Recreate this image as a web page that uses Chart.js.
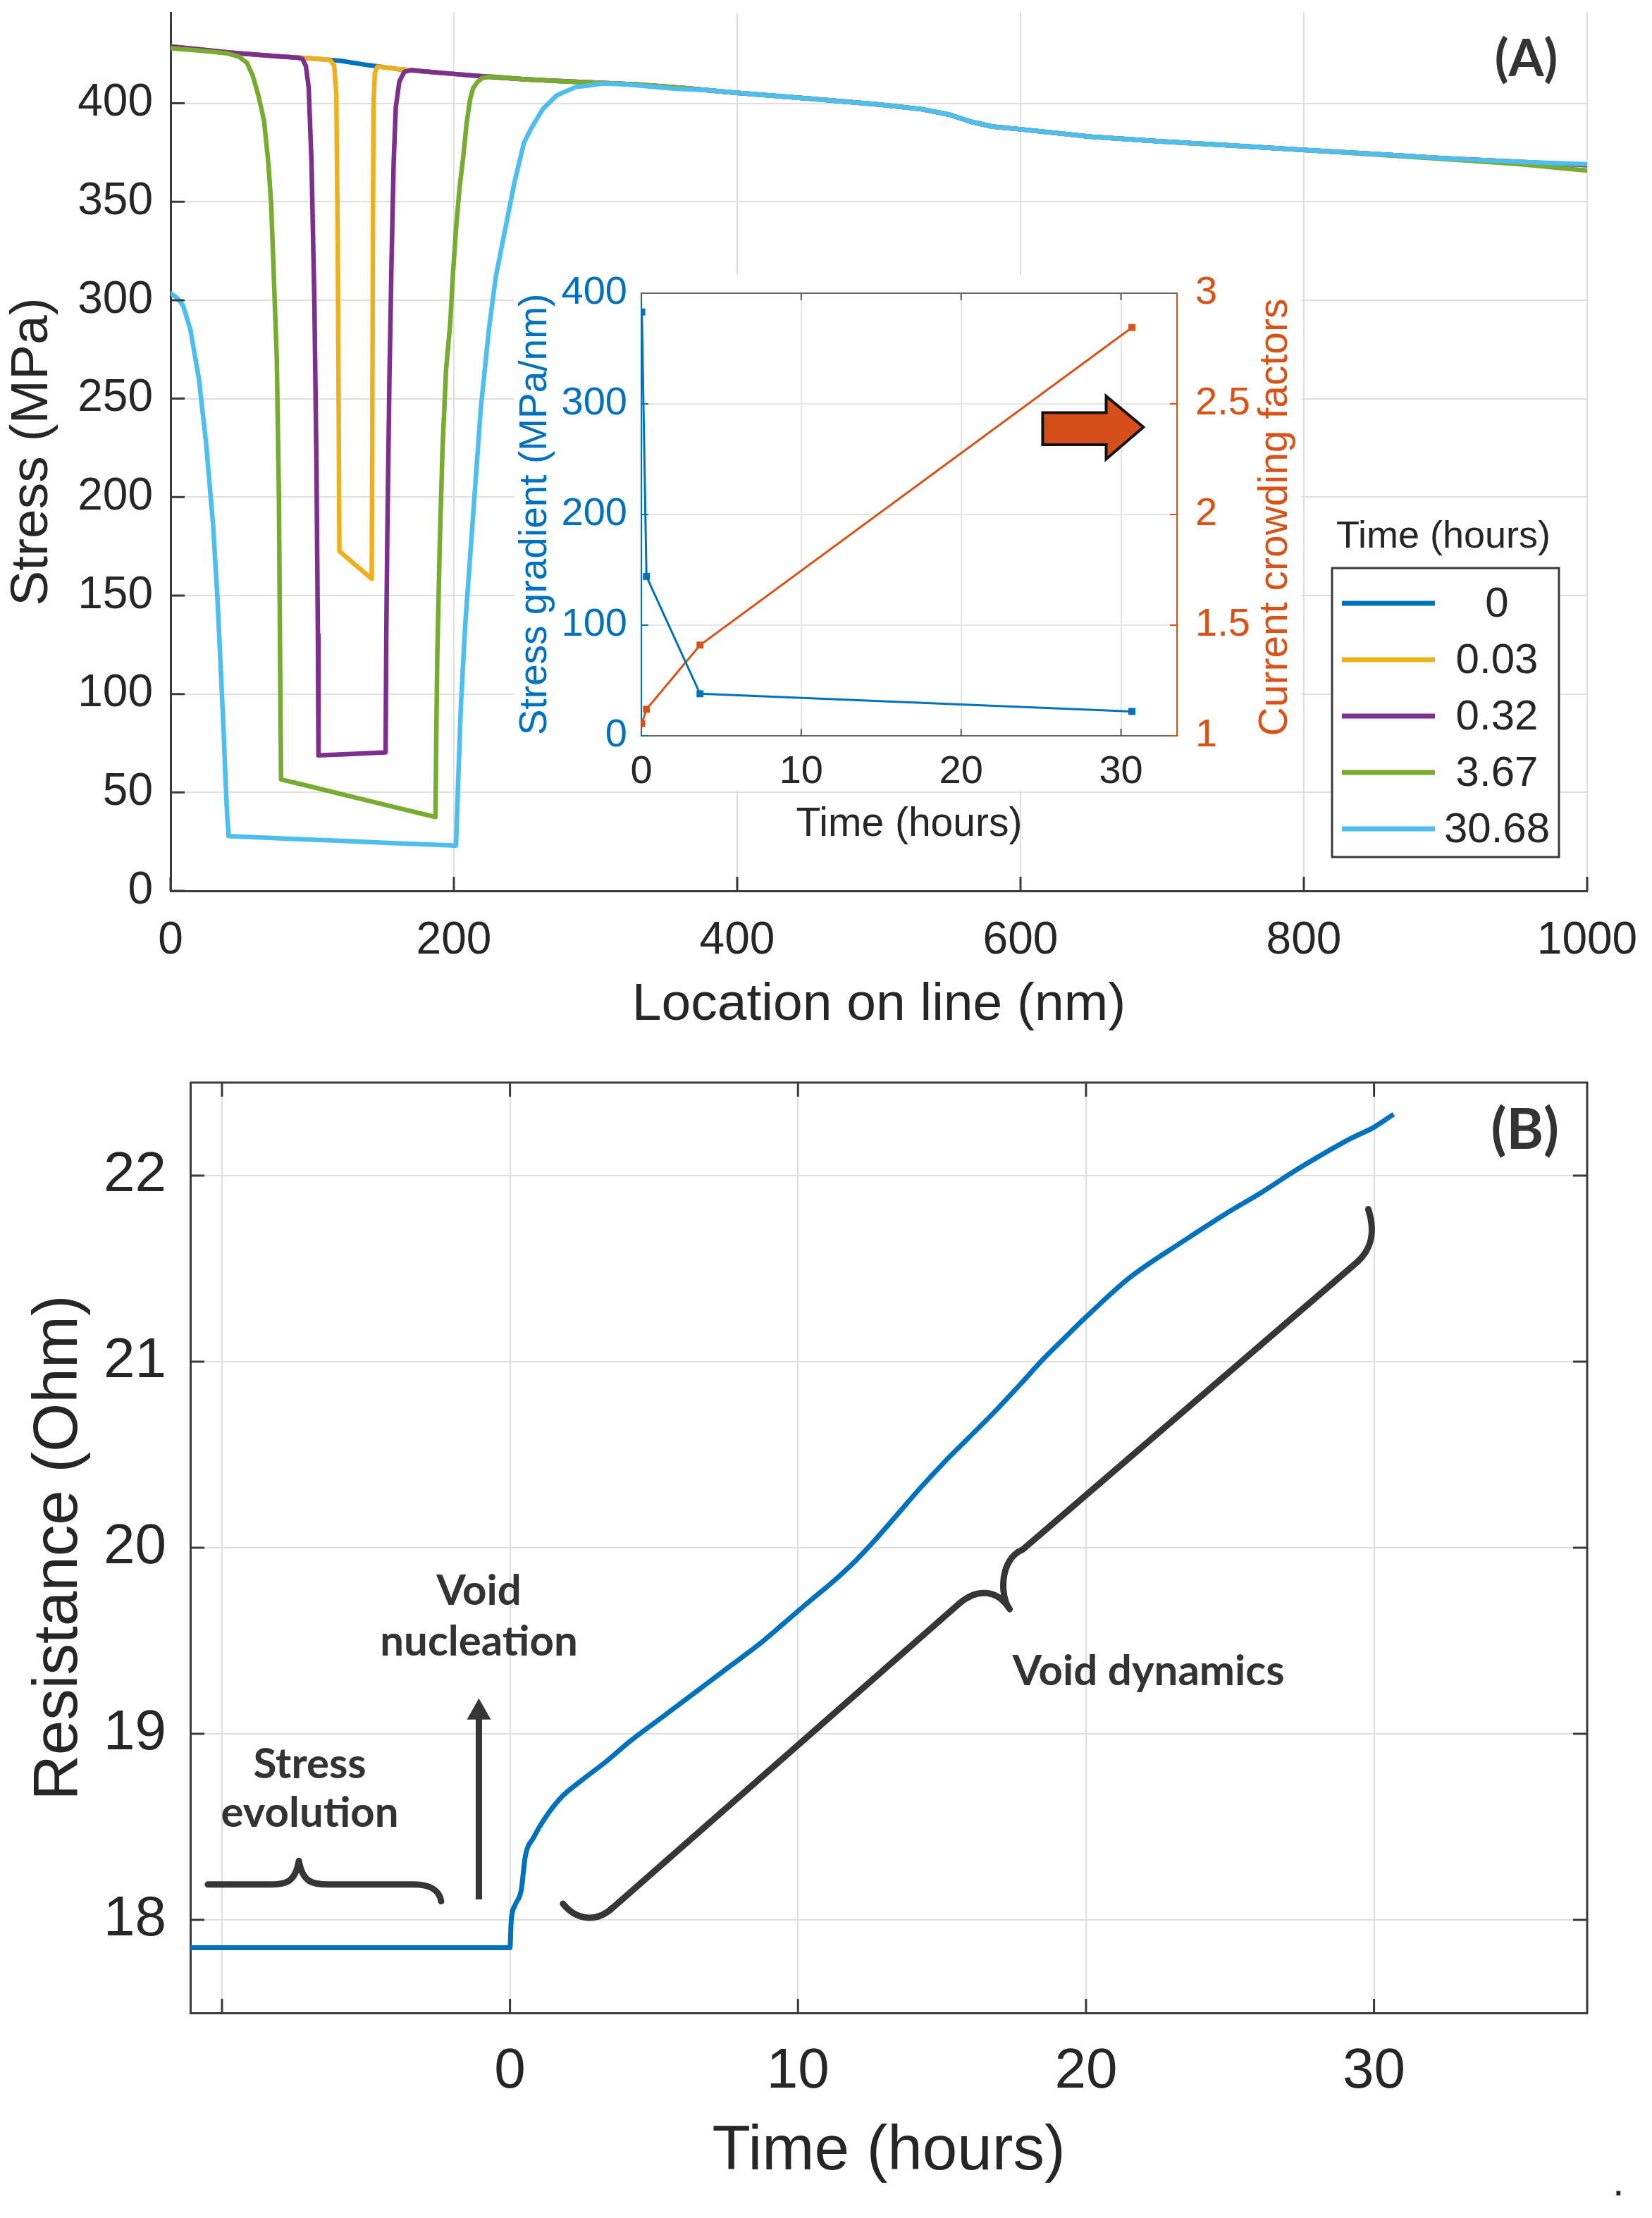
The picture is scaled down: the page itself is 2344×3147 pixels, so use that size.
<!DOCTYPE html>
<html>
<head>
<meta charset="utf-8">
<script src="https://cdn.jsdelivr.net/npm/chart.js@4.4.1/dist/chart.umd.min.js"></script>
<style>
  html, body { margin: 0; padding: 0; background: #fff; }
  #wrap { position: relative; width: 2344px; height: 3147px; overflow: hidden; background: #fff; }
  canvas { position: absolute; }
  #dot { position: absolute; left: 2288px; top: 3060px; font: 60px 'Liberation Sans', Arial, sans-serif; color: #222; }
</style>
</head>
<body>
<div id="wrap">
  <canvas id="chartA" width="2344" height="1480" style="left:0;top:0"></canvas>
  <canvas id="inset" width="1146" height="830" style="left:700px;top:380px"></canvas>
  <canvas id="chartB" width="2344" height="1647" style="left:0;top:1500px"></canvas>
  <span id="dot">.</span>
</div>
<script>
// ---------- panel A : stress along the line at several times ----------
const timeLabels = ['0', '0.03', '0.32', '3.67', '30.68'];
const locTicks = [0, 200, 400, 600, 800, 1000];
const stressTicks = [0, 50, 100, 150, 200, 250, 300, 350, 400];

const loc_t0 = [0, 20, 40, 60, 80, 100, 120, 140, 160, 180, 200, 220, 250, 280, 300, 330, 360, 400, 450, 500, 530, 550, 565, 580, 600, 650, 700, 750, 800, 850, 900, 950, 1000];
const stress_t0 = [428.8, 427.4, 425.9, 424.7, 423.6, 422.7, 421.6, 419.3, 417.4, 416.1, 414.9, 413.7, 412.2, 411.1, 410.5, 409.5, 407.9, 405.3, 402.4, 399.4, 397.0, 394.2, 390.6, 388.2, 386.8, 383.0, 380.6, 378.5, 376.3, 374.2, 372.0, 370.3, 368.6];

const loc_t003 = [0, 20, 40, 60, 80, 100, 110, 113, 115.5, 117, 118, 118.7, 119.2, 130, 142, 142.4, 142.8, 143.3, 144.2, 146, 150, 160, 180, 200, 220, 250, 280, 300, 330, 360, 400, 450, 500, 530, 550, 565, 580, 600, 650, 700, 750, 800, 850, 900, 950, 1000];
const stress_t003 = [428.8, 427.4, 425.9, 424.7, 423.6, 422.7, 422.2, 421.8, 419.0, 405.0, 330.0, 240.0, 172.5, 165.8, 158.5, 230.0, 330.0, 400.0, 415.5, 418.6, 418.4, 417.4, 416.1, 414.9, 413.7, 412.2, 411.1, 410.5, 409.5, 407.9, 405.3, 402.4, 399.4, 397.0, 394.2, 390.6, 388.2, 386.8, 383.0, 380.6, 378.5, 376.3, 374.2, 372.0, 370.3, 368.6];

const loc_t032 = [0, 20, 40, 60, 80, 90, 93, 95.5, 97.5, 99.5, 101.5, 103, 104, 104.4, 128, 151.8, 152.3, 153, 154.5, 156, 157.5, 159, 161.5, 165, 170, 180, 200, 220, 250, 280, 300, 330, 360, 400, 450, 500, 530, 550, 565, 580, 600, 650, 700, 750, 800, 850, 900, 950, 1000];
const stress_t032 = [428.8, 427.4, 425.9, 424.7, 423.6, 423.1, 422.6, 419.0, 408.0, 370.0, 300.0, 216.0, 130.0, 68.8, 69.5, 70.3, 130.0, 180.0, 260.0, 320.0, 370.0, 398.0, 411.0, 416.0, 416.8, 416.1, 414.9, 413.7, 412.2, 411.1, 410.5, 409.5, 407.9, 405.3, 402.4, 399.4, 397.0, 394.2, 390.6, 388.2, 386.8, 383.0, 380.6, 378.5, 376.3, 374.2, 372.0, 370.3, 368.6];

const loc_t367 = [0, 20, 40, 48, 54, 58, 62, 66, 69, 71, 73, 75, 76.5, 77.3, 78, 100, 130, 160, 187, 187.6, 188.3, 190, 192, 194.5, 197.4, 199.5, 201.5, 204, 206.5, 209, 211.4, 213.5, 216.4, 220, 226.3, 250, 280, 300, 330, 360, 400, 450, 500, 530, 550, 565, 580, 600, 650, 700, 750, 800, 850, 900, 950, 1000];
const stress_t367 = [427.9, 426.8, 425.3, 423.8, 420.5, 414.0, 404.0, 391.0, 370.0, 349.0, 310.0, 270.0, 200.0, 120.0, 56.6, 52.8, 47.5, 42.2, 37.5, 80.0, 120.0, 175.0, 225.0, 265.0, 288.0, 315.0, 336.0, 357.0, 372.0, 390.0, 401.7, 407.5, 410.6, 412.8, 413.6, 412.2, 411.0, 410.5, 409.5, 407.9, 405.3, 402.4, 399.4, 397.0, 394.2, 390.6, 388.2, 386.8, 383.0, 380.6, 378.5, 376.3, 374.0, 371.6, 369.2, 365.8];

const loc_t3068 = [0, 5, 9, 14, 20, 25, 30, 33, 35.5, 37.5, 39, 40, 41, 80, 120, 160, 201.5, 203, 205, 208, 211, 215, 219, 224.7, 229.6, 236.2, 242.8, 249.5, 254.4, 262.7, 272.6, 285.9, 305.7, 322, 355, 380, 400, 450, 500, 530, 550, 565, 580, 600, 650, 700, 750, 800, 850, 900, 950, 1000];
const stress_t3068 = [303.5, 301.0, 297.0, 285.0, 260.0, 228.0, 186.0, 150.0, 112.0, 80.0, 53.0, 38.0, 27.8, 26.6, 25.4, 24.2, 23.0, 55.0, 95.0, 135.0, 165.0, 205.0, 245.0, 285.0, 312.0, 336.0, 360.0, 380.0, 387.0, 397.0, 404.0, 408.2, 410.0, 409.6, 407.4, 406.6, 405.3, 402.4, 399.4, 397.0, 394.2, 390.6, 388.2, 386.8, 383.0, 380.6, 378.5, 376.3, 374.2, 372.0, 370.3, 369.0];

// ---------- inset : gradient and current crowding vs time ----------
const insetTime = [0.03, 0.32, 3.67, 30.68];
const stressGradient = [383, 144, 38, 22];
const crowdingFactor = [1.055, 1.12, 1.41, 2.845];
const insetTimeTicks = [0, 10, 20, 30];
const gradientTicks = [0, 100, 200, 300, 400];
const crowdingTicks = [1, 1.5, 2, 2.5, 3];

// ---------- panel B : resistance vs time ----------
const timeB = [-11.1, 0, 0.04, 0.18, 0.39, 0.53, 0.81, 1.23, 1.79, 2.49, 3.33, 4.17, 5.29, 6.41, 7.52, 8.64, 9.48, 10.46, 11.16, 12.0, 12.55, 13.4, 14.24, 15.08, 15.92, 16.76, 17.73, 18.43, 19.27, 20.0, 21.5, 23.4, 24.8, 26.1, 27.3, 29.2, 30.0, 30.68];
const resistanceB = [17.85, 17.85, 17.99, 18.08, 18.16, 18.34, 18.44, 18.55, 18.66, 18.75, 18.85, 18.96, 19.09, 19.22, 19.35, 19.48, 19.59, 19.72, 19.81, 19.93, 20.02, 20.17, 20.32, 20.46, 20.59, 20.72, 20.88, 21.0, 21.13, 21.24, 21.45, 21.65, 21.79, 21.91, 22.03, 22.2, 22.26, 22.33];
const timeBTicks = [-10, 0, 10, 20, 30];
const timeBLabels = ['', '0', '10', '20', '30'];
const resistanceTicks = [18, 19, 20, 21, 22];

// annotation geometry (data units of panel B)
const braceStress = [['M', -10.49, 18.19], ['L', -8.35, 18.19], ['C', -7.8, 18.19, -7.45, 18.2, -7.33, 18.317],
  ['C', -7.2, 18.2, -6.85, 18.19, -6.3, 18.19], ['L', -3.32, 18.19], ['C', -2.8, 18.19, -2.45, 18.16, -2.39, 18.1]];
const braceVoid = [['M', 1.84, 18.087], ['C', 2.3, 18.0, 3.0, 17.98, 3.6, 18.07], ['L', 15.6, 19.7],
  ['C', 16.2, 19.78, 16.9, 19.78, 17.35, 19.67], ['C', 17.0, 19.74, 17.0, 19.94, 17.8, 19.99], ['L', 29.3, 21.52],
  ['C', 29.95, 21.6, 30.05, 21.7, 29.8, 21.82]];
const nucleationArrow = { t: -1.08, from: 18.11, to: 19.19 };
const notesB = [
  { text: 'Void', t: -1.08, r: 19.765 },
  { text: 'nucleation', t: -1.08, r: 19.495 },
  { text: 'Stress', t: -6.95, r: 18.835 },
  { text: 'evolution', t: -6.95, r: 18.575 },
  { text: 'Void dynamics', t: 22.17, r: 19.335 }
];

const FONT = "'Liberation Sans', Arial, sans-serif";
const NOTE_FONT = "Lato, 'Open Sans', sans-serif";
const TEXT = '#262626';
const AXIS_LINE = '#3a3a3a';
const GRID = '#dfdfdf';
const lineColors = ['#0072BD', '#EDB120', '#7E2F8E', '#77AC30', '#4DBEEE'];

Chart.defaults.font.family = FONT;
Chart.defaults.color = TEXT;

function fixSize(prop, v) {
  return s => {
    s[prop] = v;
    s.paddingTop = 0; s.paddingBottom = 0; s.paddingLeft = 0; s.paddingRight = 0;
  };
}
function useTicks(values) {
  return s => { s.ticks = values.map(v => ({ value: v })); };
}
function pairs(xs, ys) {
  return xs.map((x, i) => ({ x: x, y: ys[i] }));
}

// short tick marks pointing into the plot, like matlab
function inTicks(ctx, scale, side, len, color, width) {
  const a = scale.chart.chartArea;
  ctx.save();
  ctx.strokeStyle = color;
  ctx.lineWidth = width;
  ctx.beginPath();
  scale.ticks.forEach(t => {
    const p = scale.getPixelForValue(t.value);
    if (side === 'bottom') { ctx.moveTo(p, a.bottom); ctx.lineTo(p, a.bottom - len); }
    if (side === 'top') { ctx.moveTo(p, a.top); ctx.lineTo(p, a.top + len); }
    if (side === 'left') { ctx.moveTo(a.left, p); ctx.lineTo(a.left + len, p); }
    if (side === 'right') { ctx.moveTo(a.right, p); ctx.lineTo(a.right - len, p); }
  });
  ctx.stroke();
  ctx.restore();
}

// --- panel A ---
const stressSeries = [
  { x: loc_t0, y: stress_t0 },
  { x: loc_t003, y: stress_t003 },
  { x: loc_t032, y: stress_t032 },
  { x: loc_t367, y: stress_t367 },
  { x: loc_t3068, y: stress_t3068 }
];

const panelAExtras = {
  id: 'panelAExtras',
  afterDraw(chart) {
    const ctx = chart.ctx;
    inTicks(ctx, chart.scales.x, 'bottom', 20, AXIS_LINE, 3);
    inTicks(ctx, chart.scales.y, 'left', 20, AXIS_LINE, 3);

    // legend
    const lg = { left: 1890, top: 806, right: 2212, bottom: 1216, row0: 856, step: 80, x0: 1904, x1: 2036, tx: 2124 };
    ctx.save();
    ctx.fillStyle = TEXT;
    ctx.font = '54px ' + FONT;
    ctx.textAlign = 'center';
    ctx.textBaseline = 'middle';
    ctx.fillText('Time (hours)', 2048, 762);
    ctx.fillStyle = '#fff';
    ctx.fillRect(lg.left, lg.top, lg.right - lg.left, lg.bottom - lg.top);
    ctx.strokeStyle = AXIS_LINE;
    ctx.lineWidth = 3;
    ctx.strokeRect(lg.left, lg.top, lg.right - lg.left, lg.bottom - lg.top);
    chart.data.datasets.forEach((ds, i) => {
      const y = lg.row0 + i * lg.step;
      ctx.strokeStyle = ds.borderColor;
      ctx.lineWidth = 7;
      ctx.beginPath();
      ctx.moveTo(lg.x0, y);
      ctx.lineTo(lg.x1, y);
      ctx.stroke();
      ctx.fillStyle = TEXT;
      ctx.font = '60px ' + FONT;
      ctx.fillText(ds.label, lg.tx, y + 2);
    });

    ctx.font = 'bold 72px ' + NOTE_FONT;
    ctx.fillStyle = '#333';
    ctx.fillText('(A)', chart.scales.x.getPixelForValue(957), chart.scales.y.getPixelForValue(422));
    ctx.restore();
  }
};

new Chart(document.getElementById('chartA'), {
  type: 'scatter',
  data: {
    datasets: stressSeries.map((s, i) => ({
      label: timeLabels[i],
      data: pairs(s.x, s.y),
      showLine: true,
      borderColor: lineColors[i],
      backgroundColor: lineColors[i],
      borderWidth: 6.5,
      borderJoinStyle: 'round',
      borderCapStyle: 'round',
      pointRadius: 0,
      tension: 0,
      order: 5 - i
    }))
  },
  options: {
    responsive: false,
    animation: false,
    devicePixelRatio: 1,
    events: [],
    layout: { padding: { left: 0, top: 18, right: 92, bottom: 0 } },
    plugins: { legend: { display: false }, tooltip: { enabled: false } },
    scales: {
      x: {
        type: 'linear', min: 0, max: 1000,
        afterBuildTicks: useTicks(locTicks),
        afterFit: fixSize('height', 1480 - 1264),
        grid: { color: GRID, lineWidth: 2, drawTicks: false },
        border: { color: AXIS_LINE, width: 3 },
        ticks: { color: TEXT, font: { size: 64 }, padding: 33, maxRotation: 0, autoSkip: false, callback: v => String(v) },
        title: { display: true, text: 'Location on line (nm)', color: TEXT, font: { size: 75 }, padding: { top: 0, bottom: 9 } }
      },
      y: {
        type: 'linear', min: 0, max: 446,
        afterBuildTicks: useTicks(stressTicks),
        afterFit: fixSize('width', 242),
        grid: { color: GRID, lineWidth: 2, drawTicks: false },
        border: { color: AXIS_LINE, width: 3 },
        ticks: { color: TEXT, font: { size: 64 }, padding: 25, autoSkip: false, callback: v => String(v) },
        title: { display: true, text: 'Stress (MPa)', color: TEXT, font: { size: 75 }, padding: { top: 1, bottom: 0 } }
      }
    }
  },
  plugins: [panelAExtras]
});

// --- inset ---
const insetExtras = {
  id: 'insetExtras',
  beforeDraw(chart) {
    const ctx = chart.ctx;
    ctx.save();
    ctx.fillStyle = '#fff';
    ctx.fillRect(30, 10, 1116, 732);
    ctx.restore();
  },
  afterDraw(chart) {
    const ctx = chart.ctx;
    const a = chart.chartArea;
    const x = chart.scales.x, y2 = chart.scales.y2;
    inTicks(ctx, x, 'bottom', 10, '#555', 2);
    inTicks(ctx, x, 'top', 10, '#555', 2);
    inTicks(ctx, chart.scales.y, 'left', 10, '#0072BD', 2);
    inTicks(ctx, y2, 'right', 10, '#D95319', 2);
    ctx.save();
    ctx.strokeStyle = '#666';
    ctx.lineWidth = 2;
    ctx.beginPath();
    ctx.moveTo(a.left, a.top);
    ctx.lineTo(a.right, a.top);
    ctx.stroke();

    // right axis label, reading bottom to top
    ctx.translate(1110, 354);
    ctx.rotate(-Math.PI / 2);
    ctx.fillStyle = '#D95319';
    ctx.font = '57px ' + FONT;
    ctx.textAlign = 'center';
    ctx.textBaseline = 'middle';
    ctx.fillText('Current crowding factors', 0, 0);
    ctx.restore();

    // block arrow pointing at the right axis
    const X = v => x.getPixelForValue(v), Y = v => y2.getPixelForValue(v);
    ctx.save();
    ctx.beginPath();
    ctx.moveTo(X(25.1), Y(2.46));
    ctx.lineTo(X(29.07), Y(2.46));
    ctx.lineTo(X(29.07), Y(2.535));
    ctx.lineTo(X(31.4), Y(2.395));
    ctx.lineTo(X(29.07), Y(2.25));
    ctx.lineTo(X(29.07), Y(2.315));
    ctx.lineTo(X(25.1), Y(2.315));
    ctx.closePath();
    ctx.fillStyle = '#d44f1b';
    ctx.fill();
    ctx.strokeStyle = '#111';
    ctx.lineWidth = 4;
    ctx.lineJoin = 'miter';
    ctx.stroke();
    ctx.restore();
  }
};

new Chart(document.getElementById('inset'), {
  type: 'scatter',
  data: {
    datasets: [
      {
        label: 'Stress gradient', data: pairs(insetTime, stressGradient), yAxisID: 'y',
        showLine: true, borderColor: '#0072BD', backgroundColor: '#0072BD', borderWidth: 3,
        pointStyle: 'rect', pointRadius: 7, pointBorderWidth: 0
      },
      {
        label: 'Current crowding', data: pairs(insetTime, crowdingFactor), yAxisID: 'y2',
        showLine: true, borderColor: '#D95319', backgroundColor: '#D95319', borderWidth: 3,
        pointStyle: 'rect', pointRadius: 7, pointBorderWidth: 0
      }
    ]
  },
  options: {
    responsive: false,
    animation: false,
    devicePixelRatio: 1,
    events: [],
    layout: { padding: { left: 0, top: 36, right: 0, bottom: 0 } },
    plugins: { legend: { display: false }, tooltip: { enabled: false } },
    scales: {
      x: {
        type: 'linear', min: 0, max: 33.5,
        afterBuildTicks: useTicks(insetTimeTicks),
        afterFit: fixSize('height', 830 - 664),
        grid: { color: '#e6e6e6', lineWidth: 2, drawTicks: false },
        border: { color: '#666', width: 2 },
        ticks: { color: TEXT, font: { size: 56 }, padding: 18, maxRotation: 0, autoSkip: false, callback: v => String(v) },
        title: { display: true, text: 'Time (hours)', color: TEXT, font: { size: 57 }, padding: { top: 0, bottom: 6 } }
      },
      y: {
        type: 'linear', position: 'left', min: 0, max: 400,
        afterBuildTicks: useTicks(gradientTicks),
        afterFit: fixSize('width', 210),
        grid: { color: '#e6e6e6', lineWidth: 2, drawTicks: false },
        border: { color: '#0072BD', width: 2 },
        ticks: { color: '#0072BD', font: { size: 56 }, padding: 20, autoSkip: false, callback: v => String(v) },
        title: { display: true, text: 'Stress gradient (MPa/nm)', color: '#0072BD', font: { size: 55 }, padding: { top: 27, bottom: 0 } }
      },
      y2: {
        type: 'linear', position: 'right', min: 1, max: 3,
        afterBuildTicks: useTicks(crowdingTicks),
        afterFit: fixSize('width', 176),
        grid: { drawOnChartArea: false, drawTicks: false },
        border: { color: '#D95319', width: 2 },
        ticks: { color: '#D95319', font: { size: 56 }, padding: 26, autoSkip: false, callback: v => String(v) }
      }
    }
  },
  plugins: [insetExtras]
});

// --- panel B ---
function tracePath(ctx, cmds, X, Y) {
  ctx.beginPath();
  cmds.forEach(c => {
    if (c[0] === 'M') ctx.moveTo(X(c[1]), Y(c[2]));
    else if (c[0] === 'L') ctx.lineTo(X(c[1]), Y(c[2]));
    else ctx.bezierCurveTo(X(c[1]), Y(c[2]), X(c[3]), Y(c[4]), X(c[5]), Y(c[6]));
  });
  ctx.stroke();
}

const panelBExtras = {
  id: 'panelBExtras',
  afterDraw(chart) {
    const ctx = chart.ctx;
    const a = chart.chartArea;
    const xs = chart.scales.x, ys = chart.scales.y;
    const X = v => xs.getPixelForValue(v), Y = v => ys.getPixelForValue(v);

    ctx.save();
    ctx.strokeStyle = AXIS_LINE;
    ctx.lineWidth = 3;
    ctx.beginPath();
    ctx.moveTo(a.left, a.top);
    ctx.lineTo(a.right, a.top);
    ctx.lineTo(a.right, a.bottom);
    ctx.stroke();
    ctx.restore();
    inTicks(ctx, xs, 'bottom', 20, AXIS_LINE, 3);
    inTicks(ctx, xs, 'top', 20, AXIS_LINE, 3);
    inTicks(ctx, ys, 'left', 20, AXIS_LINE, 3);
    inTicks(ctx, ys, 'right', 20, AXIS_LINE, 3);

    ctx.save();
    ctx.strokeStyle = '#363636';
    ctx.lineWidth = 9;
    ctx.lineCap = 'round';
    ctx.lineJoin = 'round';
    tracePath(ctx, braceStress, X, Y);
    tracePath(ctx, braceVoid, X, Y);

    // nucleation arrow
    const ax = X(nucleationArrow.t), tip = Y(nucleationArrow.to);
    ctx.lineCap = 'butt';
    ctx.beginPath();
    ctx.moveTo(ax, Y(nucleationArrow.from));
    ctx.lineTo(ax, tip + 26);
    ctx.stroke();
    ctx.fillStyle = '#363636';
    ctx.beginPath();
    ctx.moveTo(ax, tip);
    ctx.lineTo(ax + 17, tip + 30);
    ctx.lineTo(ax - 17, tip + 30);
    ctx.closePath();
    ctx.fill();

    ctx.fillStyle = '#333';
    ctx.textAlign = 'center';
    ctx.textBaseline = 'middle';
    ctx.font = 'bold 60px ' + NOTE_FONT;
    notesB.forEach(n => ctx.fillText(n.text, X(n.t), Y(n.r)));
    ctx.font = 'bold 80px ' + NOTE_FONT;
    ctx.fillText('(B)', X(35.24), Y(22.24));
    ctx.restore();
  }
};

new Chart(document.getElementById('chartB'), {
  type: 'scatter',
  data: {
    datasets: [{
      label: 'Resistance',
      data: pairs(timeB, resistanceB),
      showLine: true,
      borderColor: '#0072BD',
      backgroundColor: '#0072BD',
      borderWidth: 7,
      borderJoinStyle: 'round',
      pointRadius: 0,
      cubicInterpolationMode: 'monotone'
    }]
  },
  options: {
    responsive: false,
    animation: false,
    devicePixelRatio: 1,
    events: [],
    layout: { padding: { left: 0, top: 36, right: 92, bottom: 0 } },
    plugins: { legend: { display: false }, tooltip: { enabled: false } },
    scales: {
      x: {
        type: 'linear', min: -11.1, max: 37.4,
        afterBuildTicks: useTicks(timeBTicks),
        afterFit: fixSize('height', 1647 - 1356),
        grid: { color: GRID, lineWidth: 2, drawTicks: false },
        border: { color: AXIS_LINE, width: 3 },
        ticks: { color: TEXT, font: { size: 80 }, padding: 36, maxRotation: 0, autoSkip: false, callback: (v, i) => timeBLabels[i] },
        title: { display: true, text: 'Time (hours)', color: TEXT, font: { size: 89 }, padding: { top: 0, bottom: 40 } }
      },
      y: {
        type: 'linear', min: 17.5, max: 22.5,
        afterBuildTicks: useTicks(resistanceTicks),
        afterFit: fixSize('width', 270),
        grid: { color: GRID, lineWidth: 2, drawTicks: false },
        border: { color: AXIS_LINE, width: 3 },
        ticks: { color: TEXT, font: { size: 80 }, padding: 34, autoSkip: false, callback: v => String(v) },
        title: { display: true, text: 'Resistance (Ohm)', color: TEXT, font: { size: 89 }, padding: { top: 31, bottom: 0 } }
      }
    }
  },
  plugins: [panelBExtras]
});
</script>
</body>
</html>
